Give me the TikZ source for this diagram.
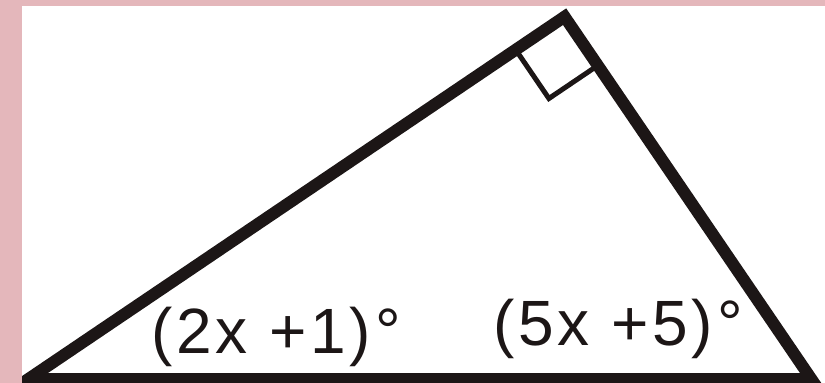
\documentclass[tikz,border=0pt]{standalone}
\usepackage{fontspec}
\setmainfont{Liberation Sans}
\usetikzlibrary{calc}
\definecolor{pinkbg}{RGB}{228,183,187}
\definecolor{inkc}{RGB}{28,22,22}
\begin{document}
\begin{tikzpicture}[x=1pt,y=-1pt,
  side/.style={draw=inkc,line width=12pt,line join=miter},
  rmark/.style={draw=inkc,line width=5pt},
  lbl/.style={anchor=base,inner sep=0pt,text=inkc,font=\fontsize{64}{70}\selectfont\addfontfeature{LetterSpace=6}}]
\fill[pinkbg] (0,0) rectangle (825,383);
\fill[white] (22,6) rectangle (825,383);
\useasboundingbox (0,0) rectangle (825,383);
\begin{scope}
\clip (22,6) rectangle (825,383);
\coordinate (A) at (28.4,379);
\coordinate (T) at (564.6,16.7);
\coordinate (B) at (811.3,379);
\draw[side] (A) -- (T) -- (B) -- cycle;
\coordinate (P1) at ($(T)!59pt!(A)$);
\coordinate (P2) at ($(T)!59pt!(B)$);
\coordinate (C) at ($(P1)+(P2)-(T)$);
\draw[rmark] (P1) -- (C) -- (P2);
\end{scope}
\node[lbl] (la) at (276,353) {(2x +1)°};
\node[lbl] (lb) at (618,345) {(5x +5)°};
\end{tikzpicture}
\end{document}
